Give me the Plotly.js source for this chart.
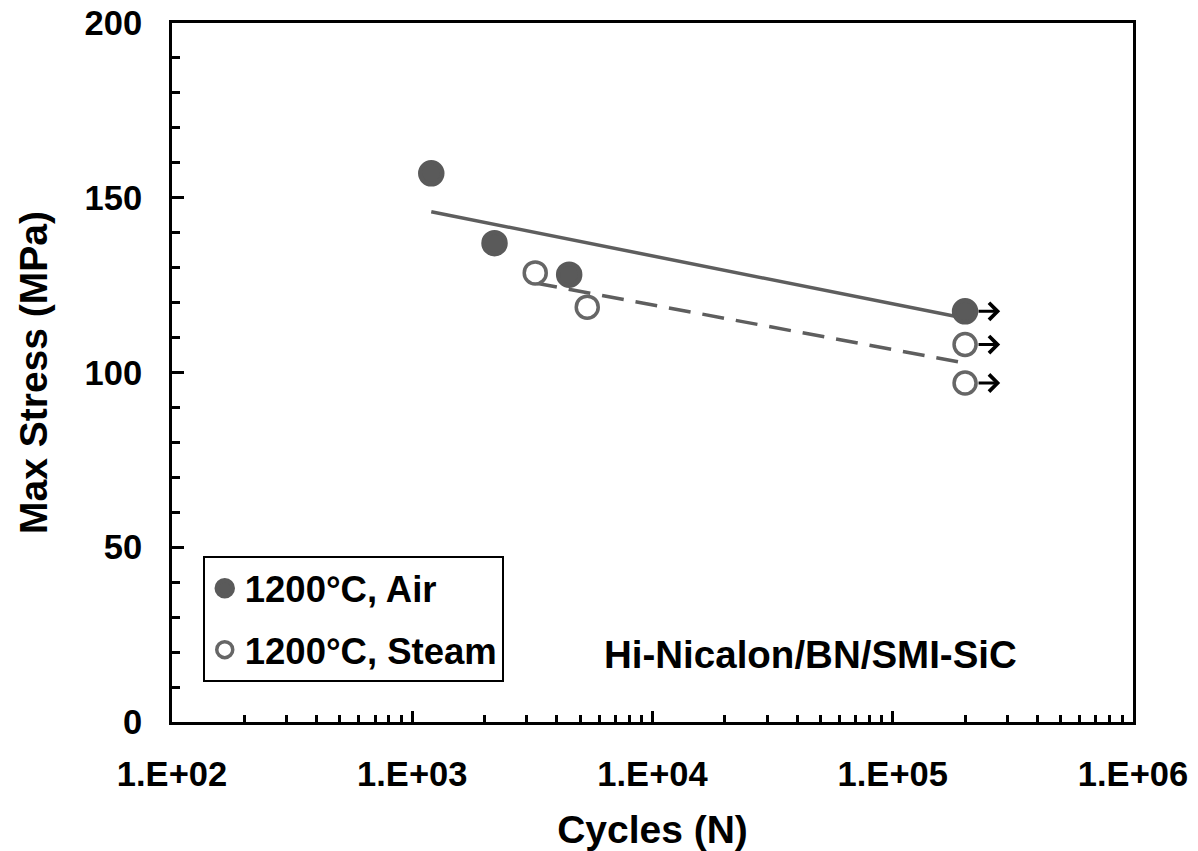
<!DOCTYPE html>
<html><head><meta charset="utf-8">
<script src="https://cdn.plot.ly/plotly-3.0.1.min.js"></script>
<style>html,body{margin:0;padding:0;background:#fff}</style>
</head><body><div id="chart" style="width:1198px;height:851px"></div>
<script>
const airCycles = [1200, 2200, 4500, 200000];
const airStress = [157, 137, 128, 117.5];
const steamCycles = [3250, 5350, 200000, 200000];
const steamStress = [128.5, 118.7, 108, 97];
const airTrendCycles = [1200, 200000];
const airTrendStress = [146, 115.5];
const steamTrendCycles = [3250, 200000];
const steamTrendStress = [125.6, 102.7];
const runoutCycles = [200000, 200000, 200000];
const runoutStress = [117.5, 108, 97];
const runoutArrowEnd = 280000;
const xTickVals = [1e2, 1e3, 1e4, 1e5, 1e6];
const xTickText = ['1.E+02', '1.E+03', '1.E+04', '1.E+05', '1.E+06'];
const yTickVals = [0, 50, 100, 150, 200];

const FONT = 'Liberation Sans, Arial, sans-serif';
const grey = '#5e5e5e';

const traces = [
  {x: airTrendCycles, y: airTrendStress, mode: 'lines', showlegend: false, hoverinfo: 'skip',
   line: {color: grey, width: 3.5}},
  {x: steamTrendCycles, y: steamTrendStress, mode: 'lines', showlegend: false, hoverinfo: 'skip',
   line: {color: grey, width: 3.5, dash: '22px,12px'}},
  {x: airCycles, y: airStress, mode: 'markers', name: '1200°C, Air', legendgroup: 'a',
   marker: {symbol: 'circle', size: 22, color: '#5a5a5a', line: {width: 4.5, color: '#5a5a5a'}}},
  {x: steamCycles, y: steamStress, mode: 'markers', name: '1200°C, Steam', legendgroup: 'b',
   marker: {symbol: 'circle', size: 22, color: '#ffffff', line: {width: 3.5, color: '#666666'}}}
];

const annotations = runoutCycles.map((c, i) => ({
  x: Math.log10(runoutArrowEnd), y: runoutStress[i], xref: 'x', yref: 'y',
  ax: Math.log10(c), ay: runoutStress[i], axref: 'x', ayref: 'y',
  showarrow: true, arrowhead: 4, arrowsize: 1.1, arrowwidth: 3, arrowcolor: '#000',
  startstandoff: 12, text: ''
}));
annotations.push({
  text: 'Hi-Nicalon/BN/SMI-SiC', xref: 'paper', yref: 'paper', x: 0.664, y: 0.096,
  xanchor: 'center', yanchor: 'middle', showarrow: false,
  font: {family: FONT, size: 38.5, color: '#000', weight: 700}
});

const layout = {
  width: 1198, height: 851,
  margin: {l: 172, r: 65, t: 23, b: 129},
  paper_bgcolor: '#fff', plot_bgcolor: '#fff',
  font: {family: FONT, color: '#000', weight: 700},
  showlegend: true,
  legend: {x: 0.032, y: 0.2375, xanchor: 'left', yanchor: 'top',
    bordercolor: '#000', borderwidth: 2, bgcolor: '#fff',
    traceorder: 'grouped', tracegroupgap: 11,
    font: {family: FONT, size: 36.5, color: '#000', weight: 700}},
  xaxis: {
    type: 'log', range: [2, 6], tickmode: 'array', tickvals: xTickVals, ticktext: xTickText,
    ticks: 'inside', ticklen: 11, tickwidth: 3, tickcolor: '#000',
    minor: {ticks: 'inside', ticklen: 7, tickwidth: 3, tickcolor: '#000', dtick: 'D1', showgrid: false},
    showline: true, linewidth: 3, linecolor: '#000', mirror: true,
    showgrid: false, zeroline: false,
    tickfont: {family: FONT, size: 34.5, color: '#000', weight: 700},
    ticklabelstandoff: 20,
    title: {text: 'Cycles (N)', font: {family: FONT, size: 39, color: '#000', weight: 700}, standoff: 30}
  },
  yaxis: {
    range: [0, 200], tickmode: 'array', tickvals: yTickVals,
    ticks: 'inside', ticklen: 12, tickwidth: 3, tickcolor: '#000',
    minor: {ticks: 'inside', ticklen: 8, tickwidth: 3, tickcolor: '#000', dtick: 10, showgrid: false},
    showline: true, linewidth: 3, linecolor: '#000', mirror: true,
    showgrid: false, zeroline: false,
    tickfont: {family: FONT, size: 34.5, color: '#000', weight: 700},
    ticklabelstandoff: 20,
    title: {text: 'Max Stress (MPa)', font: {family: FONT, size: 39, color: '#000', weight: 700}, standoff: 25}
  },
  annotations: annotations
};

Plotly.newPlot('chart', traces, layout, {displayModeBar: false, staticPlot: true});
</script></body></html>
